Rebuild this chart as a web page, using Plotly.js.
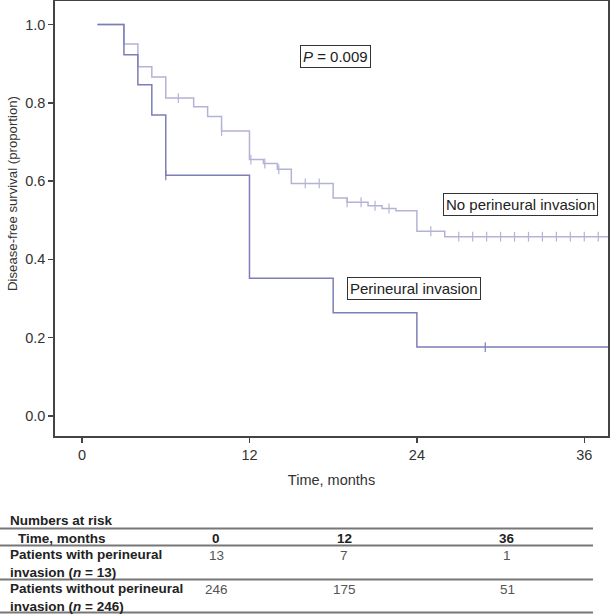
<!DOCTYPE html>
<html>
<head>
<meta charset="utf-8">
<script src="https://cdn.plot.ly/plotly-3.0.1.min.js"></script>
<style>html,body{margin:0;padding:0;background:#fff;}#chart{width:610px;height:614px;}</style>
</head>
<body>
<div id="chart"></div>
<script>
// ---- Data ----
const pniTime   = [1.1, 3, 4, 5, 6, 12, 18, 24, 37.7];
const pniSurv   = [1.0, 0.923, 0.846, 0.769, 0.615, 0.352, 0.264, 0.176, 0.176];
const pniCensor = [6, 28.9];

const noTime   = [1.1, 3, 4, 5, 6, 8, 9, 10, 12, 13, 14, 15, 18, 19, 20.5, 21.5, 22.5, 24, 26, 37.7];
const noSurv   = [1.0, 0.950, 0.892, 0.866, 0.812, 0.790, 0.765, 0.728, 0.655, 0.645, 0.630, 0.594, 0.557, 0.546, 0.537, 0.530, 0.524, 0.472, 0.458, 0.458];
const noCensor = [6.9, 10, 12.1, 13.1, 14.1, 16, 17, 19, 20, 21, 22, 25, 27, 28, 29, 30, 31, 32, 33, 34, 35, 36, 37];

const xTicks = [0, 12, 24, 36];
const yTicks = [0, 0.2, 0.4, 0.6, 0.8, 1.0];

const xTitle = 'Time, months';
const yTitle = 'Disease-free survival (proportion)';

const riskTitle = 'Numbers at risk';
const riskHeaderLabel = 'Time, months';
const riskTimes = ['0', '12', '36'];
const riskRowLabels = ['Patients with perineural<br>invasion (<i>n</i> = 13)', 'Patients without perineural<br>invasion (<i>n</i> = 246)'];
const riskPNI = [13, 7, 1];
const riskNo  = [246, 175, 51];

const pLabel = '<i>P</i> = 0.009';
const labelNo = 'No perineural invasion';
const labelPNI = 'Perineural invasion';

// ---- helpers ----
function levelAt(times, surv, t) {
  let v = surv[0];
  for (let i = 0; i < times.length; i++) { if (times[i] <= t) v = surv[i]; }
  return v;
}

const colPNI = '#7d7db9';
const colNo  = '#b3b3d6';

const W = 610, H = 614;
const M = {l: 55, r: 2, t: 1, b: 178};
const plotH = H - M.t - M.b, plotW = W - M.l - M.r;
const py = p => (H - M.b - p) / plotH;  // pixel y -> paper y
const px = p => (p - M.l) / plotW;      // pixel x -> paper x

const traces = [
  {x: noTime, y: noSurv, type: 'scatter', mode: 'lines', line: {shape: 'hv', color: colNo, width: 1.5}, hoverinfo: 'skip'},
  {x: pniTime, y: pniSurv, type: 'scatter', mode: 'lines', line: {shape: 'hv', color: colPNI, width: 1.5}, hoverinfo: 'skip'},
  {x: noCensor, y: noCensor.map(t => levelAt(noTime, noSurv, t)), type: 'scatter', mode: 'markers',
   marker: {symbol: 'line-ns-open', size: 7, color: colNo, line: {color: colNo, width: 1.2}}, hoverinfo: 'skip'},
  {x: pniCensor, y: pniCensor.map(t => levelAt(pniTime, pniSurv, t)), type: 'scatter', mode: 'markers',
   marker: {symbol: 'line-ns-open', size: 7, color: colPNI, line: {color: colPNI, width: 1.2}}, hoverinfo: 'skip'}
];

const txt = '#333';
const baseFont = {family: 'Liberation Sans, Arial, sans-serif', size: 14.5, color: txt};
const yTitleFont = {family: 'Liberation Sans, Arial, sans-serif', size: 13.2, color: txt};
const boxFont = {family: 'Liberation Sans, Arial, sans-serif', size: 15, color: '#222'};
const tabFont = {family: 'Liberation Sans, Arial, sans-serif', size: 13.5, color: '#222'};
const valFont = {family: 'Liberation Sans, Arial, sans-serif', size: 13.5, color: '#555'};

const annotations = [
  {x: 18.2, y: 0.917, xref: 'x', yref: 'y', text: pLabel, showarrow: false, font: boxFont,
   bordercolor: '#333', borderwidth: 1, borderpad: 2, bgcolor: '#fff'},
  {x: 31.4, y: 0.54, xref: 'x', yref: 'y', text: labelNo, showarrow: false, font: boxFont,
   bordercolor: '#333', borderwidth: 1, borderpad: 2, bgcolor: '#fff'},
  {x: 23.8, y: 0.326, xref: 'x', yref: 'y', text: labelPNI, showarrow: false, font: boxFont,
   bordercolor: '#333', borderwidth: 1, borderpad: 2, bgcolor: '#fff'},
  // y axis title
  {x: px(12), y: py(194), xref: 'paper', yref: 'paper', xanchor: 'center', yanchor: 'middle', showarrow: false,
   textangle: -90, text: yTitle, font: yTitleFont},
  // table
  {x: px(8), y: py(520), xref: 'paper', yref: 'paper', xanchor: 'left', yanchor: 'middle', showarrow: false,
   text: '<b>' + riskTitle + '</b>', font: tabFont},
  {x: px(16), y: py(538), xref: 'paper', yref: 'paper', xanchor: 'left', yanchor: 'middle', showarrow: false,
   text: '<b>' + riskHeaderLabel + '</b>', font: tabFont},
  {x: px(8), y: py(563), xref: 'paper', yref: 'paper', xanchor: 'left', yanchor: 'middle', align: 'left', showarrow: false,
   text: '<b>' + riskRowLabels[0] + '</b>', font: tabFont},
  {x: px(8), y: py(597.5), xref: 'paper', yref: 'paper', xanchor: 'left', yanchor: 'middle', align: 'left', showarrow: false,
   text: '<b>' + riskRowLabels[1] + '</b>', font: tabFont}
];
const colX = [216, 344, 507];
riskTimes.forEach((t, i) => {
  annotations.push({x: px(colX[i]), y: py(538), xref: 'paper', yref: 'paper', xanchor: 'center', yanchor: 'middle',
    showarrow: false, text: '<b>' + t + '</b>', font: tabFont});
  annotations.push({x: px(colX[i]), y: py(555), xref: 'paper', yref: 'paper', xanchor: 'center', yanchor: 'middle',
    showarrow: false, text: String(riskPNI[i]), font: valFont});
  annotations.push({x: px(colX[i]), y: py(589), xref: 'paper', yref: 'paper', xanchor: 'center', yanchor: 'middle',
    showarrow: false, text: String(riskNo[i]), font: valFont});
});

const hl = (yy, w) => ({type: 'line', xref: 'paper', yref: 'paper', x0: px(0), x1: px(593), y0: py(yy), y1: py(yy),
  line: {color: '#777', width: w}});
const shapes = [hl(528.5, 2), hl(545.5, 2), hl(579.5, 2), hl(612.5, 2)];

const layout = {
  width: W, height: H,
  margin: M,
  paper_bgcolor: '#fff', plot_bgcolor: '#fff',
  showlegend: false,
  font: baseFont,
  xaxis: {
    range: [-1.94, 37.7], tickvals: xTicks, ticktext: xTicks.map(String),
    ticks: 'outside', ticklen: 5, tickwidth: 1.5, tickcolor: '#444',
    showline: true, linecolor: '#444', linewidth: 1.8, mirror: true,
    showgrid: false, zeroline: false, tickfont: baseFont,
    title: {text: xTitle, font: baseFont, standoff: 13}
  },
  yaxis: {
    range: [-0.051, 1.06], tickvals: yTicks, tickformat: '.1f',
    ticks: 'outside', ticklen: 5, tickwidth: 1.5, tickcolor: '#444',
    showline: true, linecolor: '#444', linewidth: 1.8, mirror: true,
    showgrid: false, zeroline: false, tickfont: baseFont
  },
  annotations: annotations,
  shapes: shapes
};

Plotly.newPlot('chart', traces, layout, {staticPlot: true, displayModeBar: false});
</script>
</body>
</html>
